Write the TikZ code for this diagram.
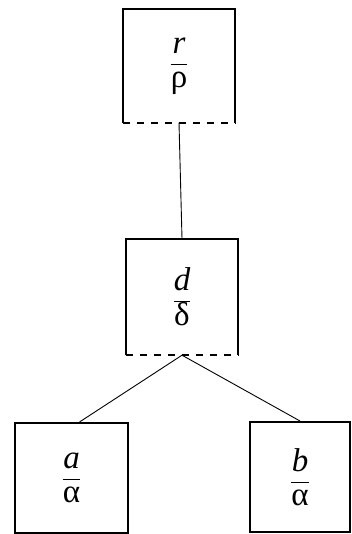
\documentclass[tikz,border=0pt]{standalone}
\usepackage{fontspec}
\setmainfont{Liberation Serif}
\newfontfamily\treefont{Liberation Serif}
\usepackage{tikz}
\usetikzlibrary{positioning}
\newcommand{\lbl}[2]{$\displaystyle\frac{\mbox{\treefont\itshape #1}}{\mbox{\treefont #2}}$}

\begin{document}
\begin{tikzpicture}[
    x=1pt, y=-1pt,
    font=\treefont\fontsize{33}{38}\selectfont,
    every node/.style={inner sep=0pt},
    leaf/.style={draw, line width=2pt, minimum height=110pt, minimum width=113pt},
    open/.style={minimum width=112pt},
    side/.style={line width=2pt},
    cut/.style={line width=2pt, dashed, dash pattern=on 7pt off 7pt},
    link/.style={line width=0.9pt}]

    \useasboundingbox (0,0) rectangle (352,534);

    % upper nodes, bottom edge left open (dashed)
    \node[open, minimum height=113pt] (root) at (179,66) {\lbl{r}{ρ}};
    \node[open, minimum height=116pt] (mid) at (182,297) {\lbl{d}{δ}};
    \foreach \n in {root,mid} {
        \draw[side] (\n.south west) -- (\n.north west) -- (\n.north east) -- (\n.south east);
        \draw[cut] (\n.south west) -- (\n.south east);
    }

    % leaves
    \node[leaf] (left) at (71.5,478) {\lbl{a}{α}};
    \node[leaf, minimum width=100pt] (right) at (300,477) {\lbl{b}{α}};

    \draw[link] (root.south) -- (mid.north);
    \draw[link] (mid.south) -- ([xshift=8pt]left.north);
    \draw[link] (mid.south) -- (right.north);
\end{tikzpicture}
\end{document}
